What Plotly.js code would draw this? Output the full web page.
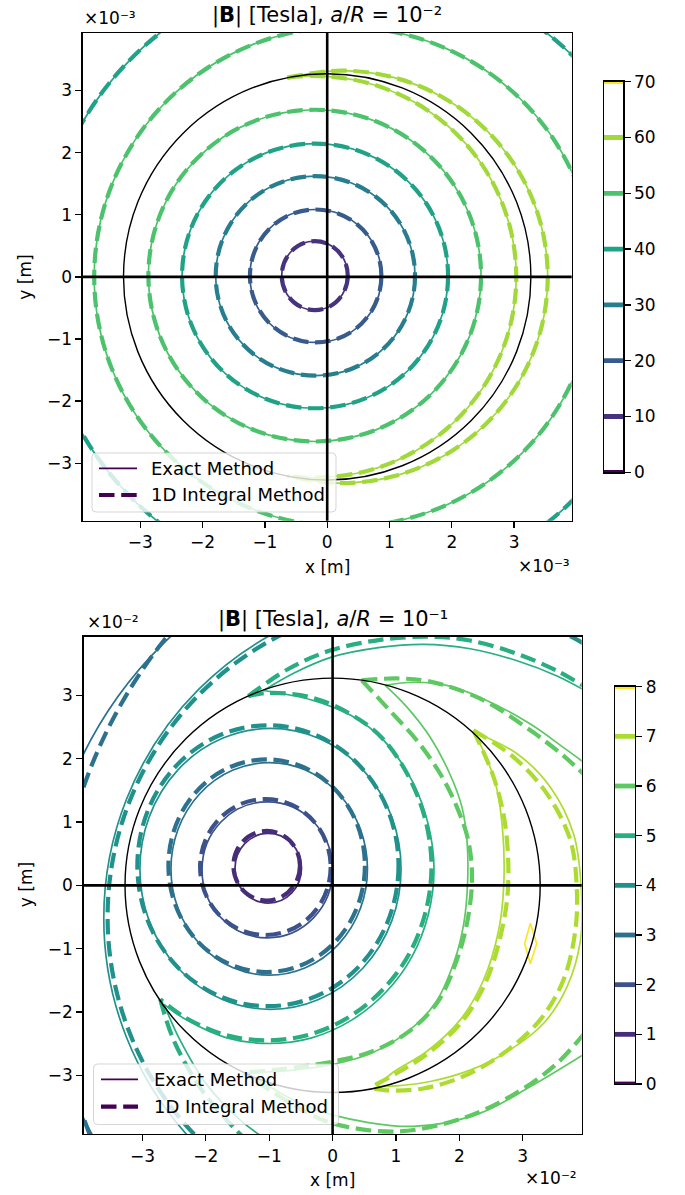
<!DOCTYPE html>
<html><head><meta charset="utf-8">
<script src="https://cdn.plot.ly/plotly-3.0.1.min.js"></script>
<style>html,body{margin:0;padding:0;background:#fff}</style>
</head><body><div id="chart" style="width:685px;height:1195px"></div>
<script>
// ---------------- data ----------------
const tickVals = [-3, -2, -1, 0, 1, 2, 3];
const tickText = ['−3', '−2', '−1', '0', '1', '2', '3'];

// top panel (a/R = 1e-2), coordinates in units of 1e-3 m
const topLevels = [0, 10, 20, 30, 40, 50, 60, 70];
const topColors = ['#440154', '#46327d', '#375b8c', '#277e8e', '#20a287', '#4cc26c', '#a0d939', '#fde725'];
const topWireRadius = 3.27;
const topRange = [-3.925, 3.925];
// closed contours (same for both methods)
const topEllLevel = [10, 20, 30, 40, 50, 50, 40];
const topEllCx = [-0.20, -0.185, -0.19, -0.195, -0.20, 0.28, 0.42];
const topEllCy = [0.02, 0.014, 0.015, 0.015, 0.02, 0.0, -0.02];
const topEllRx = [0.53, 1.055, 1.60, 2.135, 2.67, 4.02, 5.02];
const topEllRy = [0.555, 1.07, 1.605, 2.13, 2.67, 4.02, 5.02];
// 60 T crescent (inner and outer arcs)
const top60In = {x: [-0.639, -0.2, 0.637, 1.418, 2.088, 2.602, 2.925, 3.035, 2.925, 2.602, 2.088, 1.418, 0.637, -0.2, -0.639],
                 y: [3.205, 3.235, 3.125, 2.802, 2.288, 1.618, 0.837, 0, -0.837, -1.618, -2.288, -2.802, -3.125, -3.235, -3.205]};
const top60Out = {x: [-0.639, 0.22, 1.079, 1.88, 2.568, 3.095, 3.427, 3.54, 3.427, 3.095, 2.568, 1.88, 1.079, 0.22, -0.639],
                  y: [3.207, 3.32, 3.207, 2.875, 2.348, 1.66, 0.859, 0, -0.859, -1.66, -2.348, -2.875, -3.207, -3.32, -3.207]};

// bottom panel (a/R = 1e-1), coordinates in units of 1e-2 m
const botLevels = [0, 1, 2, 3, 4, 5, 6, 7, 8];
const botColors = ['#440154', '#472c7a', '#3b528b', '#2c728e', '#21918c', '#28ae80', '#5ec962', '#addc30', '#fde725'];
const botWireRadius = 3.275;
const botRange = [-3.93, 3.93];
// closed inner contours: S = exact method (solid), D = 1D integral method (dashed)
const botEllLevel = [1, 2, 3, 4];
const botEllCxS = [-1.015, -1.03, -1.0, -0.98];
const botEllCyS = [0.27, 0.245, 0.26, 0.26];
const botEllCxD = [-1.04, -1.06, -1.04, -1.02];
const botEllCyD = [0.31, 0.29, 0.31, 0.31];
const botEllRx = [0.525, 1.03, 1.55, 2.06];
const botEllRy = [0.55, 1.075, 1.68, 2.22];
// large outer contours on the left (circles, mostly outside the frame)
const botOutLevel = [3, 4];
const botOutCxS = [1.9, 1.51];
const botOutCyS = [-0.8, -0.52];
const botOutRS = [6.5, 5.12];
const botOutCxD = [3.6, 1.45];
const botOutCyD = [-1.06, -0.5];
const botOutRD = [7.97, 5.0];
// open contour pieces
const b5InS = {x: [-1.09, -0.33, 0.30, 0.80, 1.25, 1.51, 1.60, 1.51, 1.25, 0.84, 0.30, -0.33, -1.0, -1.67, -2.30, -2.66],
               y: [3.08, 2.93, 2.68, 2.30, 1.66, 0.96, 0.25, -0.46, -1.13, -1.69, -2.13, -2.41, -2.50, -2.41, -2.13, -1.88]};
const b5InD = {x: [-1.33, -1.04, -0.37, 0.26, 0.78, 1.21, 1.47, 1.56, 1.47, 1.21, 0.80, 0.26, -0.37, -1.04, -1.71, -2.34, -2.72],
               y: [2.99, 3.04, 2.98, 2.72, 2.33, 1.70, 1.01, 0.30, -0.41, -1.08, -1.64, -2.08, -2.36, -2.45, -2.36, -2.08, -1.80]};
const b5OutTopS = {x: [-1.09, -0.6, -0.04, 0.75, 1.43, 2.17, 2.91, 3.54, 3.98], y: [3.08, 3.36, 3.60, 3.76, 3.81, 3.74, 3.55, 3.31, 3.08]};
const b5OutTopD = {x: [-1.33, -0.7, -0.04, 0.75, 1.54, 2.17, 2.91, 3.54, 3.98], y: [2.99, 3.42, 3.71, 3.88, 3.93, 3.87, 3.66, 3.39, 3.14]};
const b5OutBotS = {x: [-2.66, -2.41, -2.0, -1.47, -1.1], y: [-1.88, -2.44, -3.13, -3.70, -3.98]};
const b5OutBotD = {x: [-2.72, -2.51, -2.1, -1.68, -1.41], y: [-1.80, -2.44, -3.18, -3.70, -3.98]};
const b6InS = {x: [0.83, 1.17, 1.54, 1.85, 2.04, 2.12, 2.13, 2.07, 1.92, 1.62, 1.15, 0.57, -0.04, -0.6, -1.05, -1.38],
               y: [3.16, 2.82, 2.34, 1.76, 1.24, 0.71, 0.05, -0.6, -1.2, -1.86, -2.34, -2.67, -2.84, -2.92, -2.95, -2.97]};
const b6InD = {x: [0.46, 0.905, 1.33, 1.70, 1.96, 2.14, 2.20, 2.12, 1.96, 1.66, 1.19, 0.61, -0.02, -0.6, -1.05, -1.40],
               y: [3.24, 2.76, 2.29, 1.76, 1.24, 0.71, 0.10, -0.6, -1.18, -1.84, -2.32, -2.63, -2.79, -2.88, -2.93, -2.96]};
const b6OutTopS = {x: [0.83, 1.27, 1.80, 2.33, 3.12, 3.64, 3.98], y: [3.16, 3.21, 3.16, 2.97, 2.55, 2.18, 1.93]};
const b6OutTopD = {x: [0.46, 1.01, 1.54, 2.33, 3.12, 3.64, 3.98], y: [3.24, 3.27, 3.22, 2.95, 2.45, 2.05, 1.74]};
const b6OutBotS = {x: [3.98, 3.12, 2.33, 1.27, -0.04, -0.6, -1.05, -1.38], y: [-2.66, -3.18, -3.60, -3.81, -3.62, -3.40, -3.15, -2.97]};
const b6OutBotD = {x: [3.98, 3.5, 2.85, 2.06, 1.01, -0.04, -0.6, -1.05, -1.40], y: [-2.33, -2.85, -3.31, -3.68, -3.89, -3.75, -3.48, -3.2, -2.96]};
const b7InS = {x: [2.24, 2.56, 2.68, 2.70, 2.62, 2.38, 2.01, 1.48, 0.96, 0.70], y: [2.42, 1.65, 0.9, 0.0, -0.71, -1.50, -2.13, -2.63, -2.95, -3.18]};
const b7OutS = {x: [2.24, 2.91, 3.43, 3.80, 3.92, 3.91, 3.70, 3.33, 2.80, 2.17, 1.54, 1.0, 0.70],
                y: [2.42, 2.08, 1.56, 0.82, 0.0, -0.87, -1.60, -2.18, -2.60, -2.92, -3.10, -3.17, -3.18]};
const b7InD = {x: [2.22, 2.54, 2.72, 2.77, 2.67, 2.43, 2.06, 1.54, 1.01, 0.58], y: [2.45, 1.71, 0.98, 0.0, -0.71, -1.50, -2.13, -2.63, -2.97, -3.20]};
const b7OutD = {x: [2.22, 2.85, 3.38, 3.75, 3.85, 3.83, 3.64, 3.27, 2.70, 2.06, 1.43, 0.85, 0.58],
                y: [2.45, 2.03, 1.45, 0.72, 0.0, -0.71, -1.50, -2.13, -2.65, -3.02, -3.21, -3.24, -3.20]};
const b8S = {x: [3.12, 3.22, 3.12, 3.03, 3.12], y: [-0.60, -0.92, -1.24, -0.92, -0.60]};

// ---------------- styles / helpers ----------------
const FONT = 'DejaVu Sans, Liberation Sans, sans-serif';
const W = 685, H = 1195;
const SOLID_W = 1.7, DASH_W = 4.2, DASH = '15.5px,6.7px';
const px = v => v / W, py = v => 1 - v / H;
const colorOf = (levels, colors, l) => colors[levels.indexOf(l)];

const traces = [];
const shapes = [];
const annotations = [];

function ellipse(xa, ya, cx, cy, rx, ry, color, dashed, width, layer) {
  shapes.push({type: 'circle', xref: xa, yref: ya, layer: layer || 'below',
    x0: cx - rx, x1: cx + rx, y0: cy - ry, y1: cy + ry,
    line: {color: color, width: width || (dashed ? DASH_W : SOLID_W), dash: dashed ? DASH : 'solid'}});
}
function arc(xa, ya, pts, color, dashed, shape) {
  traces.push({type: 'scatter', mode: 'lines', x: pts.x, y: pts.y, xaxis: xa, yaxis: ya,
    line: {color: color, width: dashed ? DASH_W : SOLID_W, dash: dashed ? DASH : 'solid', shape: shape || 'spline', smoothing: 1},
    hoverinfo: 'skip', showlegend: false});
}

// ---- top panel contours ----
const tc = l => colorOf(topLevels, topColors, l);
[false, true].forEach(d => {
  topEllLevel.forEach((l, i) => ellipse('x', 'y', topEllCx[i], topEllCy[i], topEllRx[i], topEllRy[i], tc(l), d));
  arc('x', 'y', top60In, tc(60), d);
  arc('x', 'y', top60Out, tc(60), d);
});

// ---- bottom panel contours ----
const bc = l => colorOf(botLevels, botColors, l);
botEllLevel.forEach((l, i) => ellipse('x2', 'y2', botEllCxS[i], botEllCyS[i], botEllRx[i], botEllRy[i], bc(l), false));
botOutLevel.forEach((l, i) => ellipse('x2', 'y2', botOutCxS[i], botOutCyS[i], botOutRS[i], botOutRS[i], bc(l), false));
[[b5InS, 5], [b5OutTopS, 5], [b5OutBotS, 5], [b6InS, 6], [b6OutTopS, 6], [b6OutBotS, 6],
 [b7InS, 7], [b7OutS, 7]].forEach(([p, l]) => arc('x2', 'y2', p, bc(l), false));
arc('x2', 'y2', b8S, bc(8), false, 'linear');
botEllLevel.forEach((l, i) => ellipse('x2', 'y2', botEllCxD[i], botEllCyD[i], botEllRx[i], botEllRy[i], bc(l), true));
botOutLevel.forEach((l, i) => ellipse('x2', 'y2', botOutCxD[i], botOutCyD[i], botOutRD[i], botOutRD[i], bc(l), true));
[[b5InD, 5], [b5OutTopD, 5], [b5OutBotD, 5], [b6InD, 6], [b6OutTopD, 6], [b6OutBotD, 6],
 [b7InD, 7], [b7OutD, 7]].forEach(([p, l]) => arc('x2', 'y2', p, bc(l), true));

// ---- colorbars (line levels) ----
topLevels.forEach((l, i) => traces.push({type: 'scatter', mode: 'lines', x: [0, 1], y: [l, l], xaxis: 'x3', yaxis: 'y3',
  line: {color: topColors[i], width: DASH_W + 0.6}, hoverinfo: 'skip', showlegend: false}));
botLevels.forEach((l, i) => traces.push({type: 'scatter', mode: 'lines', x: [0, 1], y: [l, l], xaxis: 'x4', yaxis: 'y4',
  line: {color: botColors[i], width: DASH_W + 0.6}, hoverinfo: 'skip', showlegend: false}));

// ---- wire boundary (black circle) ----
ellipse('x', 'y', 0, 0, topWireRadius, topWireRadius, '#000', false, 1.4, 'above');
ellipse('x2', 'y2', 0, 0, botWireRadius, botWireRadius, '#000', false, 1.4, 'above');

// ---- legends (drawn manually, matplotlib style) ----
function legend(box, lineX, lineY, textX, textY) {
  const [x0, y0, x1, y1] = box, r = 4;
  const P = (a, b) => px(a) + ',' + py(b);
  shapes.push({type: 'path', xref: 'paper', yref: 'paper', layer: 'above',
    path: 'M' + P(x0 + r, y0) + ' L' + P(x1 - r, y0) + ' Q' + P(x1, y0) + ' ' + P(x1, y0 + r) +
          ' L' + P(x1, y1 - r) + ' Q' + P(x1, y1) + ' ' + P(x1 - r, y1) + ' L' + P(x0 + r, y1) +
          ' Q' + P(x0, y1) + ' ' + P(x0, y1 - r) + ' L' + P(x0, y0 + r) + ' Q' + P(x0, y0) + ' ' + P(x0 + r, y0) + ' Z',
    fillcolor: 'rgba(255,255,255,0.8)', line: {color: 'rgba(204,204,204,0.8)', width: 1}});
  shapes.push({type: 'line', xref: 'paper', yref: 'paper', layer: 'above', x0: px(lineX[0]), x1: px(lineX[1]),
    y0: py(lineY[0]), y1: py(lineY[0]), line: {color: '#440154', width: SOLID_W}});
  shapes.push({type: 'line', xref: 'paper', yref: 'paper', layer: 'above', x0: px(lineX[0]), x1: px(lineX[1]),
    y0: py(lineY[1]), y1: py(lineY[1]), line: {color: '#440154', width: DASH_W, dash: DASH}});
  ['Exact Method', '1D Integral Method'].forEach((t, i) => annotations.push({text: t, xref: 'paper', yref: 'paper',
    x: px(textX), y: py(textY[i]), xanchor: 'left', yanchor: 'middle', showarrow: false, font: {size: 18, color: '#000'}}));
}
legend([92, 453, 336, 512], [99, 137], [468.3, 495], 149, [468, 494.5]);
legend([93.5, 1064, 338.5, 1124.5], [101, 138], [1079.3, 1106.7], 152, [1079, 1106]);

// ---- black x = 0 / y = 0 lines (on top) ----
[['x', 'y', topRange], ['x2', 'y2', botRange]].forEach(([xa, ya, rg]) => {
  shapes.push({type: 'line', xref: xa, yref: ya, layer: 'above', x0: 0, x1: 0, y0: rg[0] - 1, y1: rg[1] + 1, line: {color: '#000', width: 2.6}});
  shapes.push({type: 'line', xref: xa, yref: ya, layer: 'above', x0: rg[0] - 1, x1: rg[1] + 1, y0: 0, y1: 0, line: {color: '#000', width: 2.6}});
});

// ---- texts ----
function note(text, x, y, xanchor, size, angle) {
  annotations.push({text: text, xref: 'paper', yref: 'paper', x: px(x), y: py(y), xanchor: xanchor, yanchor: 'middle',
    showarrow: false, textangle: angle || 0, font: {size: size, color: '#000'}});
}
note('|<b>B</b>| [Tesla], <i>a</i>/<i>R</i> = 10⁻¹', 332.7, 619, 'center', 21);
note('x [m]', 327, 567, 'center', 17);
note('x [m]', 332.7, 1180, 'center', 17);
note('y [m]', 25, 276.7, 'center', 17, -90);
note('y [m]', 26, 885.2, 'center', 17, -90);
note('×10⁻³', 82, 18, 'left', 17);
note('×10⁻³', 572, 566, 'right', 17);
note('×10⁻²', 85, 622, 'left', 17);
note('×10⁻²', 579, 1178, 'right', 17);

// ---------------- layout ----------------
const axBase = {ticks: 'outside', ticklen: 6, tickwidth: 1.3, tickcolor: '#000', showline: true, mirror: true,
  linecolor: '#000', linewidth: 1.3, showgrid: false, zeroline: false, tickfont: {size: 17, color: '#000'},
  tickvals: tickVals, ticktext: tickText, fixedrange: true};
const cbX = {range: [0, 1], showticklabels: false, ticks: '', showline: true, mirror: true, linecolor: '#000',
  linewidth: 1.3, showgrid: false, zeroline: false, fixedrange: true};
const cbY = {side: 'right', ticks: 'outside', ticklen: 6, tickwidth: 1.3, tickcolor: '#000', showline: true, mirror: true,
  linecolor: '#000', linewidth: 1.3, showgrid: false, zeroline: false, tickfont: {size: 17, color: '#000'}, fixedrange: true};

const layout = {
  width: W, height: H, margin: {l: 0, r: 0, t: 0, b: 0}, paper_bgcolor: '#fff', plot_bgcolor: '#fff',
  font: {family: FONT, color: '#000'}, showlegend: false, hovermode: false,
  title: {text: '|<b>B</b>| [Tesla], <i>a</i>/<i>R</i> = 10⁻²', x: px(327), xanchor: 'center',
          xref: 'paper', yref: 'paper', y: py(15), yanchor: 'middle', font: {size: 21, color: '#000'}},
  xaxis: Object.assign({}, axBase, {domain: [px(82.7), px(571.7)], range: topRange, anchor: 'y'}),
  yaxis: Object.assign({}, axBase, {domain: [py(520.7), py(33)], range: topRange, anchor: 'x'}),
  xaxis2: Object.assign({}, axBase, {domain: [px(83.5), px(581.7)], range: botRange, anchor: 'y2'}),
  yaxis2: Object.assign({}, axBase, {domain: [py(1134), py(636.7)], range: botRange, anchor: 'x2'}),
  xaxis3: Object.assign({}, cbX, {domain: [px(604), px(623.3)], anchor: 'y3'}),
  yaxis3: Object.assign({}, cbY, {domain: [py(472.3), py(81.7)], range: [0, 70], tickvals: topLevels, anchor: 'x3'}),
  xaxis4: Object.assign({}, cbX, {domain: [px(615), px(635)], anchor: 'y4'}),
  yaxis4: Object.assign({}, cbY, {domain: [py(1084), py(686.7)], range: [0, 8], tickvals: botLevels, anchor: 'x4'}),
  shapes: shapes, annotations: annotations
};

Plotly.newPlot('chart', traces, layout, {staticPlot: true, displayModeBar: false});
</script>
</body></html>
